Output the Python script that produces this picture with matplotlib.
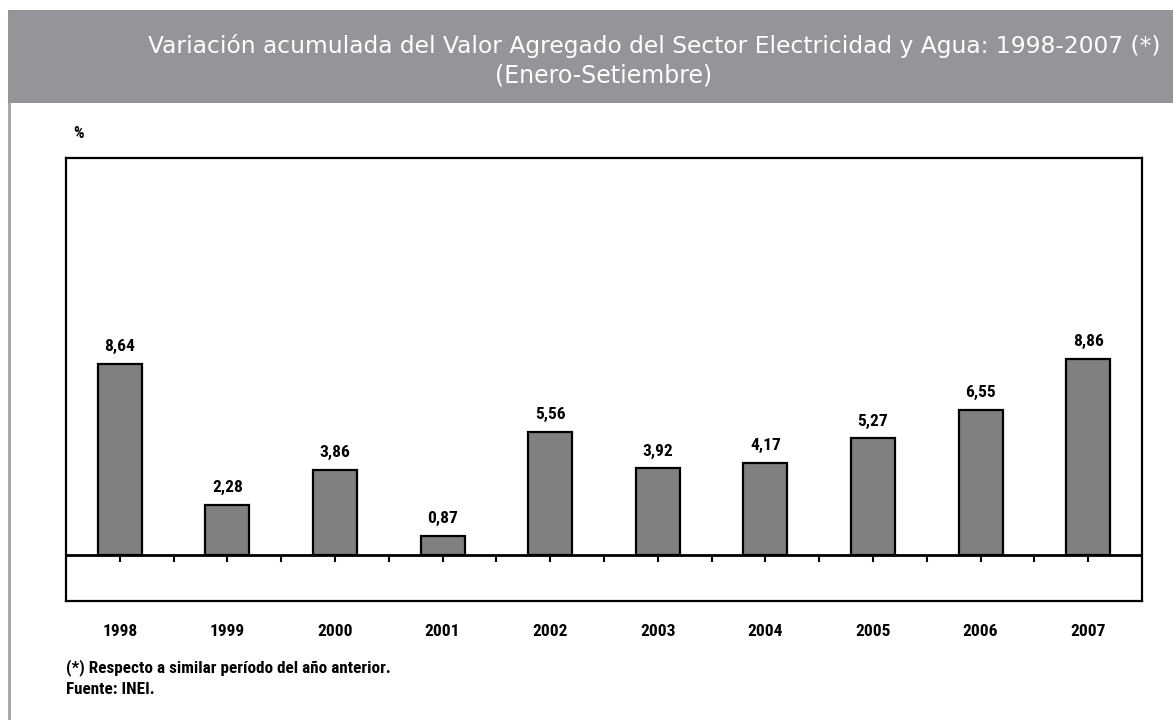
import numpy as np
import matplotlib
matplotlib.use("Agg")
import matplotlib.pyplot as plt
import matplotlib.patches as mpatches

# -- data --
years = ["1998", "1999", "2000", "2001", "2002", "2003", "2004", "2005", "2006", "2007"]
values = [8.64, 2.28, 3.86, 0.87, 5.56, 3.92, 4.17, 5.27, 6.55, 8.86]
labels = ["8,64", "2,28", "3,86", "0,87", "5,56", "3,92", "4,17", "5,27", "6,55", "8,86"]

title1 = "Variación acumulada del Valor Agregado del Sector Electricidad y Agua: 1998-2007 (*)"
title2 = "(Enero-Setiembre)"
notes = ["(*) Respecto a similar período del año anterior.", "Fuente: INEI."]

narrow = ["Liberation Sans Narrow", "Roboto Condensed", "DejaVu Sans"]
W, H = 1173, 720

fig = plt.figure(figsize=(W / 100, H / 100), dpi=100)

# header band and left border
fig.patches.append(mpatches.Rectangle((8 / W, 1 - 103 / H), 1, 93 / H,
                                      transform=fig.transFigure, facecolor="#939598",
                                      edgecolor="none", zorder=0))
fig.patches.append(mpatches.Rectangle((8 / W, 0), 3 / W, 1 - 103 / H,
                                      transform=fig.transFigure, facecolor="#a7a9ac",
                                      edgecolor="none", zorder=0))

fig.text(654 / W, 1 - 46 / H, title1, color="white", fontsize=16.8,
         ha="center", va="center", family="DejaVu Sans")
fig.text(604 / W, 1 - 75 / H, title2, color="white", fontsize=17,
         ha="center", va="center", family="DejaVu Sans")

ax = fig.add_axes([66 / W, 1 - 601 / H, (1142 - 66) / W, (601 - 158) / H])
x = np.arange(len(years))
ax.bar(x, values, width=0.41, color="#808080", edgecolor="black", linewidth=1.6, zorder=2)
ax.set_xlim(-0.5, len(years) - 0.5)
ax.set_ylim(-2.05, 17.9)

ax.axhline(0, color="black", linewidth=2, zorder=3)
ticks = np.arange(0, len(years) - 0.5, 0.5)
ax.vlines(ticks, -0.28, 0, color="black", linewidth=1.5, zorder=3)

for xi, v, lab in zip(x, values, labels):
    ax.annotate(lab, (xi, v), xytext=(0, 7), textcoords="offset points",
                ha="center", va="bottom", fontsize=12.5, fontweight="bold", family=narrow)

ax.set_xticks([])
ax.set_yticks([])
for s in ax.spines.values():
    s.set_linewidth(1.6)

for xi, yr in zip(x, years):
    ax.text(xi, -0.068, yr, transform=ax.get_xaxis_transform(), ha="center", va="center",
            fontsize=12.5, fontweight="bold", family=narrow)

fig.text(73 / W, 1 - 133 / H, "%", fontsize=12, fontweight="bold", ha="left", va="center", family=narrow)
fig.text(66 / W, 1 - 668 / H, notes[0], fontsize=12.3, fontweight="bold", ha="left", va="center", family=narrow)
fig.text(66 / W, 1 - 689 / H, notes[1], fontsize=12.3, fontweight="bold", ha="left", va="center", family=narrow)

fig.savefig("out.png", dpi=100, facecolor="white")
